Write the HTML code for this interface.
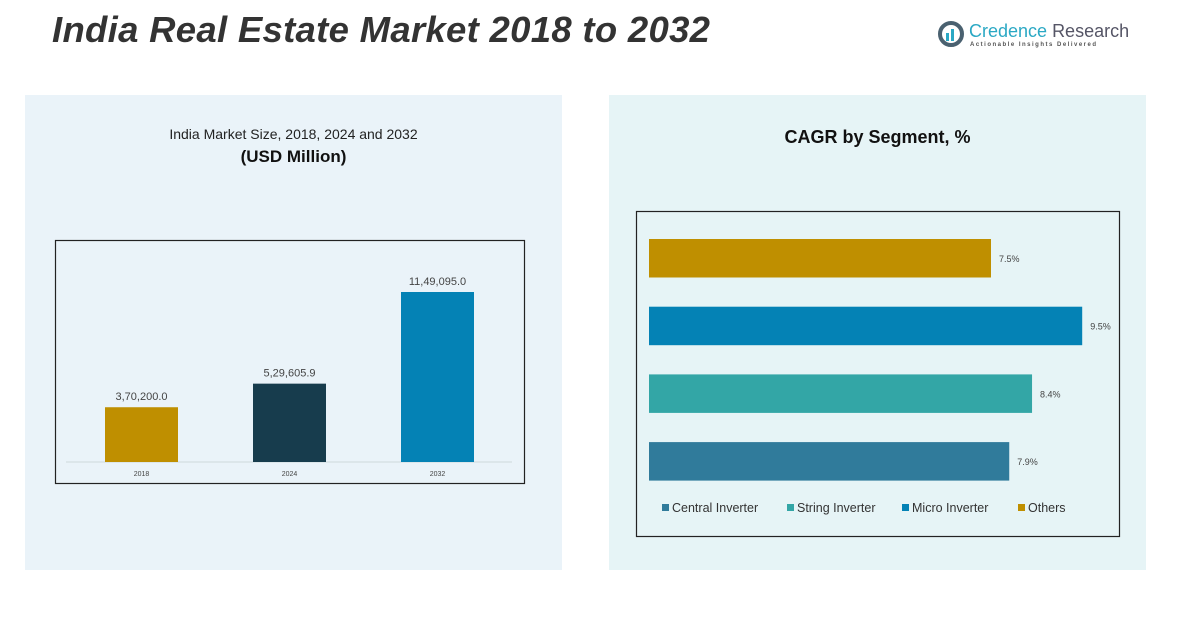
<!DOCTYPE html>
<html><head><meta charset="utf-8"><style>
body{margin:0;width:1183px;height:630px;background:#fff;position:relative;overflow:hidden;font-family:"Liberation Sans",sans-serif;}
.abs{position:absolute;}
</style></head><body>
<div class="abs" style="left:52px;top:9px;font-size:36.5px;font-weight:bold;font-style:italic;color:#333;letter-spacing:0.3px">India Real Estate Market 2018 to 2032</div>
<div class="abs" style="left:937px;top:20px;">
 <svg width="28" height="28"><circle cx="14" cy="14" r="11" fill="none" stroke="#4a6170" stroke-width="4"/><rect x="9" y="13" width="3" height="8" fill="#2aa8c4"/><rect x="14" y="9" width="3" height="12" fill="#2aa8c4"/></svg>
 <span class="abs" style="left:32px;top:1px;font-size:18px;color:#2aa8c4;white-space:nowrap">Credence <span style="color:#556">Research</span></span>
 <span class="abs" style="left:33px;top:22px;font-size:6px;color:#555;letter-spacing:1.5px;white-space:nowrap;font-weight:bold">Actionable Insights Delivered</span>
</div>
<div class="abs" style="left:25px;top:95px;width:537px;height:475px;background:#eaf3f9"></div>
<div class="abs" style="left:609px;top:95px;width:537px;height:475px;background:#e6f4f6"></div>
<div class="abs" style="left:25px;top:126px;width:537px;text-align:center;font-size:14px;color:#222">India Market Size, 2018, 2024 and 2032</div>
<div class="abs" style="left:25px;top:147px;width:537px;text-align:center;font-size:17px;font-weight:bold;color:#111">(USD Million)</div>
<div class="abs" style="left:609px;top:127px;width:537px;text-align:center;font-size:18px;font-weight:bold;color:#111">CAGR by Segment, %</div>
<svg class="abs" style="left:0;top:0" width="1183" height="630" id="svg">
 <rect x="55.5" y="240.5" width="469" height="243" fill="none" stroke="#222" stroke-width="1.2"/>
 <rect x="636.5" y="211.5" width="483" height="325" fill="none" stroke="#222" stroke-width="1.2"/>
 <line x1="66" y1="462" x2="512" y2="462" stroke="#cfd8dc"/>
 <g id="g1"></g><g id="g2"></g>
</svg>
<script>
const years=["2018","2024","2032"];
const sizes=[370200.0,529605.9,1149095.0];
const sizeLabels=["3,70,200.0","5,29,605.9","11,49,095.0"];
const barColors=["#bf8f00","#173c4d","#0482b5"];
const segments=["Others","Micro Inverter","String Inverter","Central Inverter"];
const cagr=[7.5,9.5,8.4,7.9];
const segColors=["#bf8f00","#0482b5","#33a6a6","#307b9b"];
const legendOrder=["Central Inverter","String Inverter","Micro Inverter","Others"];
const NS="http://www.w3.org/2000/svg";
function mk(t,a,p){const e=document.createElementNS(NS,t);for(const k in a)e.setAttribute(k,a[k]);p.appendChild(e);return e;}
const g1=document.getElementById('g1'),g2=document.getElementById('g2');
const base=462,yScale=v=>v*170/1149095;
const xC=i=>141.5+i*148;
years.forEach((y,i)=>{
 const h=yScale(sizes[i]);
 const r=mk('rect',{x:xC(i)-36.5,y:base-h,width:73,height:h,fill:barColors[i]},g1);
 
 
 const t=mk('text',{x:xC(i),y:base-h-7,'text-anchor':'middle','font-size':11,fill:'#444'},g1);t.textContent=sizeLabels[i];
 
 
 const xl=mk('text',{x:xC(i),y:476,'text-anchor':'middle','font-size':7,fill:'#444'},g1);xl.textContent=y;
 
 
});
const xs=v=>v*45.6;
segments.forEach((s,i)=>{
 const y=239+i*67.7,w=xs(cagr[i]);
 const r=mk('rect',{x:649,y:y,width:w,height:38.5,fill:segColors[i]},g2);
 
 
 const t=mk('text',{x:649+w+8,y:y+23,'font-size':9,fill:'#444'},g2);t.textContent=cagr[i].toFixed(1)+'%';
 
 
});
let lx=662;
legendOrder.forEach(s=>{
 const c=segColors[segments.indexOf(s)];
 const m=mk('rect',{x:lx,y:504,width:7,height:7,fill:c},g2);
 
 
 const t=mk('text',{x:lx+10,y:512,'font-size':12.5,fill:'#333'},g2);t.textContent=s;
 
 
 lx+=({"Central Inverter":125,"String Inverter":115,"Micro Inverter":116,"Others":0})[s];
});
</script>
</body></html>
